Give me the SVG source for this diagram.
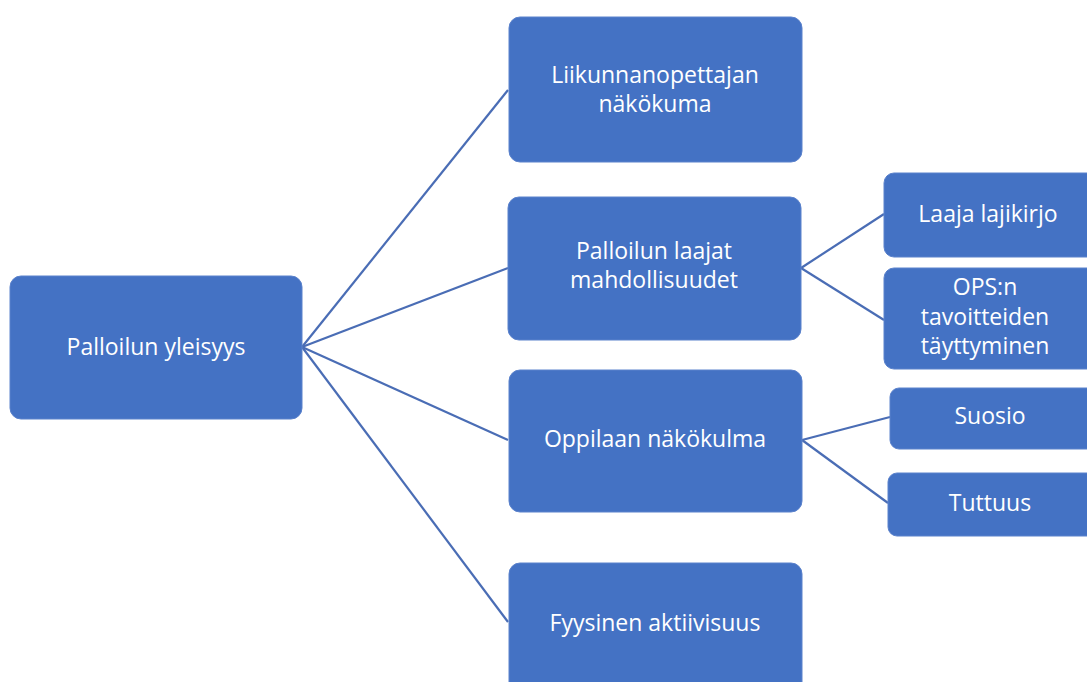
<svg xmlns="http://www.w3.org/2000/svg" width="1087" height="682" viewBox="0 0 1087 682">
<style>
.n{fill:#4472C4;stroke:#5b82cc;stroke-width:1}
.t{fill:#fff;font-family:"Open Sans","Liberation Sans",sans-serif;font-size:23px;text-anchor:middle}
.c{stroke:#4a6db5;stroke-width:2.2;fill:none}
</style>
<rect width="1087" height="682" fill="#fff"/>
<g id="connectors">
<line class="c" x1="302" y1="347" x2="508" y2="90"/>
<line class="c" x1="302" y1="347" x2="508" y2="268"/>
<line class="c" x1="302" y1="347" x2="508" y2="440"/>
<line class="c" x1="302" y1="347" x2="508" y2="622"/>
<line class="c" x1="801" y1="268" x2="884" y2="214"/>
<line class="c" x1="801" y1="268" x2="884" y2="320"/>
<line class="c" x1="802" y1="440" x2="890" y2="417"/>
<line class="c" x1="802" y1="440" x2="888" y2="503"/>
</g>
<g id="root"><rect class="n" x="10" y="276" width="292" height="143" rx="11"/><text class="t" x="156" y="355">Palloilun yleisyys</text></g>
<g id="n1"><rect class="n" x="509" y="17" width="293" height="145" rx="11"/><text class="t" x="655" y="83">Liikunnanopettajan</text><text class="t" x="655" y="112">näkökuma</text></g>
<g id="n2"><rect class="n" x="508" y="197" width="293" height="143" rx="11"/><text class="t" x="654" y="259">Palloilun laajat</text><text class="t" x="654" y="288">mahdollisuudet</text></g>
<g id="n3"><rect class="n" x="509" y="370" width="293" height="142" rx="11"/><text class="t" x="655" y="447">Oppilaan näkökulma</text></g>
<g id="n4"><rect class="n" x="509" y="563" width="293" height="130" rx="11"/><text class="t" x="655" y="631">Fyysinen aktiivisuus</text></g>
<g id="n5"><rect class="n" x="884" y="173" width="215" height="84" rx="10"/><text class="t" x="988" y="222">Laaja lajikirjo</text></g>
<g id="n6"><rect class="n" x="884" y="268" width="215" height="101" rx="10"/><text class="t" x="985" y="295">OPS:n</text><text class="t" x="985" y="325">tavoitteiden</text><text class="t" x="985" y="354">täyttyminen</text></g>
<g id="n7"><rect class="n" x="890" y="388" width="210" height="61" rx="9"/><text class="t" x="990" y="424">Suosio</text></g>
<g id="n8"><rect class="n" x="888" y="473" width="212" height="63" rx="9"/><text class="t" x="990" y="511">Tuttuus</text></g>
</svg>
